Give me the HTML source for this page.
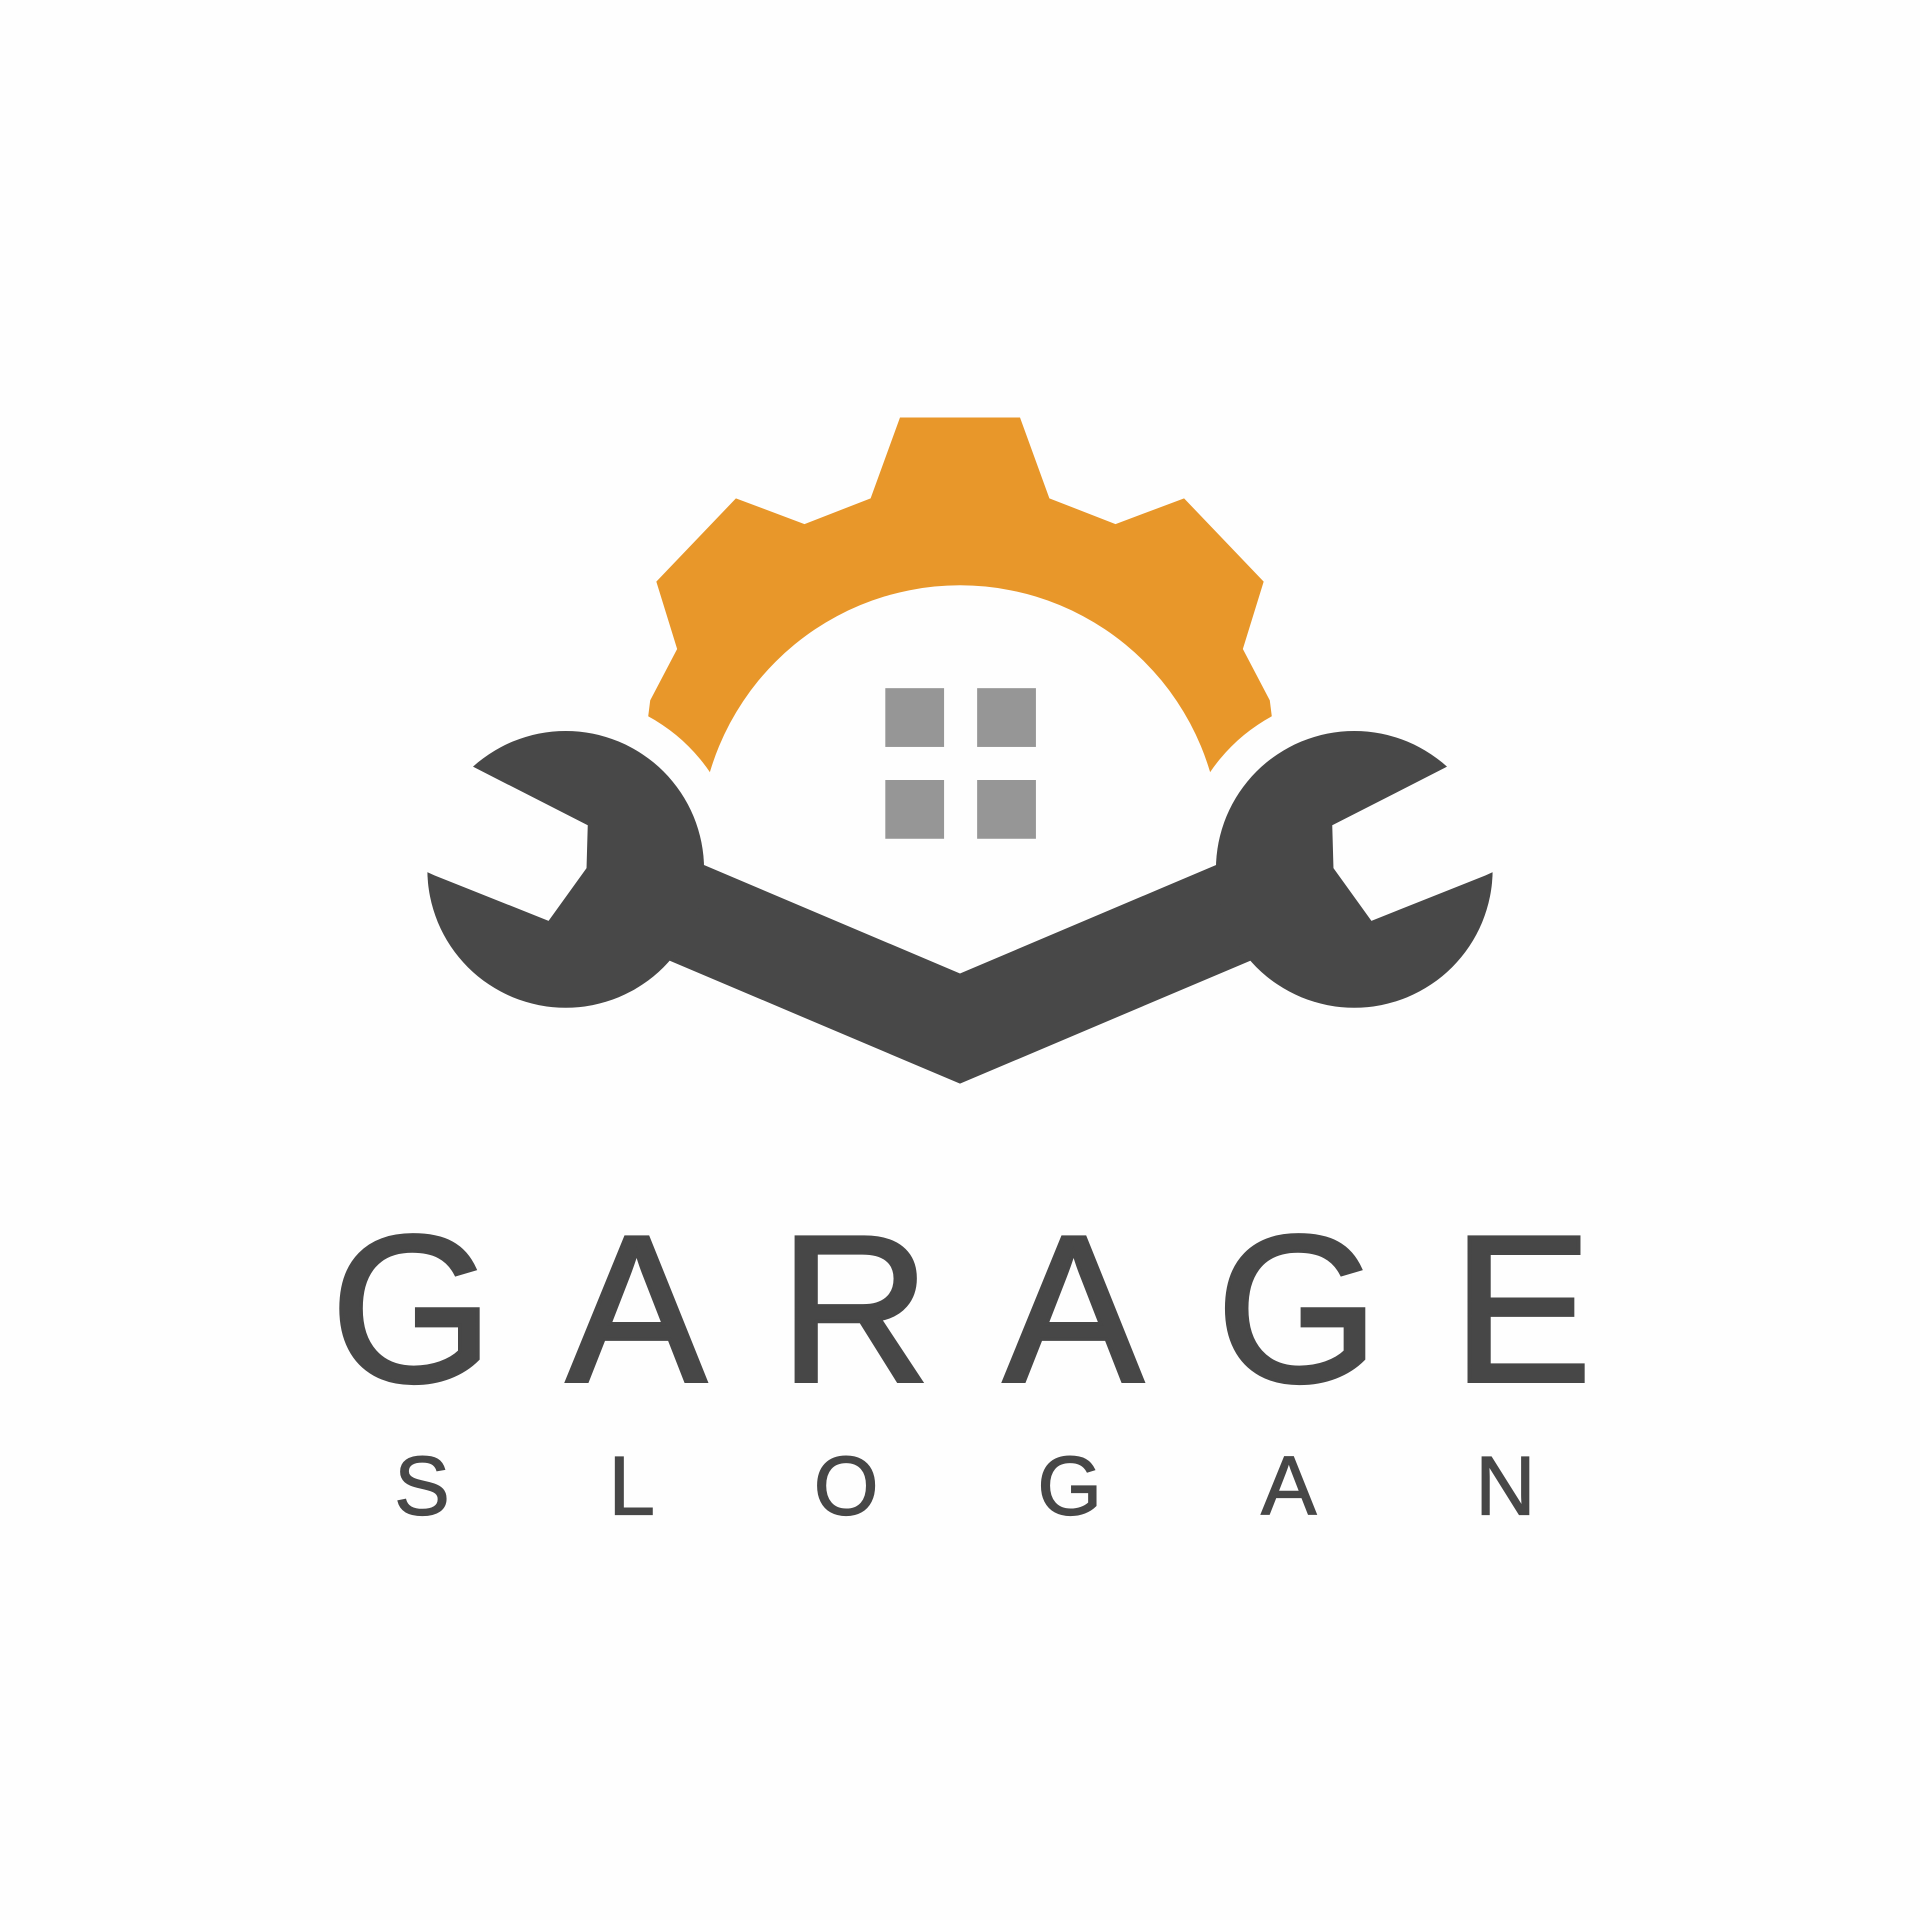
<!DOCTYPE html>
<html><head><meta charset="utf-8"><style>
html,body{margin:0;padding:0;background:#fefefe;}
svg{display:block;}
</style></head><body>
<svg width="1920" height="1920" viewBox="0 0 1568 1568" xmlns="http://www.w3.org/2000/svg">
<rect x="0" y="0" width="1568" height="1568" fill="#fefefe"/>
<defs><clipPath id="gclip"><rect x="0" y="0" width="1568" height="640"/></clipPath></defs>
<g clip-path="url(#gclip)"><path id="gear" fill="#E8972A" fill-rule="evenodd" d=""/></g>
<g fill="#969696">
<rect x="723" y="562" width="48" height="48"/>
<rect x="798" y="562" width="48" height="48"/>
<rect x="723" y="637" width="48" height="48"/>
<rect x="798" y="637" width="48" height="48"/>
</g>
<circle cx="462" cy="710" r="142" fill="#fefefe"/>
<circle cx="1106" cy="710" r="142" fill="#fefefe"/>
<g fill="#484848">
<polygon points="470,662 784,795 1098,662 1098,752 784,885 470,752"/>
<circle cx="462" cy="710" r="113"/>
<circle cx="1106" cy="710" r="113"/>
</g>
<polygon fill="#fefefe" points="388,627 480,674 479,709 448,752 355,715 300,690 320,590"/>
<polygon fill="#fefefe" points="1180,627 1088,674 1089,709 1120,752 1213,715 1268,690 1248,590"/>
<text x="270" y="1128" textLength="1030" lengthAdjust="spacing" font-family="Liberation Sans, sans-serif" font-size="171" fill="#474747" stroke="#474747" stroke-width="3">GARAGE</text>
<text x="322" y="1237" textLength="932" lengthAdjust="spacing" font-family="Liberation Sans, sans-serif" font-size="68" fill="#474747" stroke="#474747" stroke-width="1">SLOGAN</text>
</svg>
<script>
const gearLeftOutline = [[784,341],[735,341],[711,407],[657,428],[601,407],[536,475],[553,530],[531,572],[520,660],[784,660]];
(function(){
  const cx=784, cy=691, rIn=213;
  const left=gearLeftOutline.slice(0,-1);
  const right=left.slice().reverse().map(p=>[1568-p[0],p[1]]);
  const all=left.concat(right);
  let d='M'+all.map(p=>p[0]+','+p[1]).join(' L')+' Z';
  d+=' M'+(cx-rIn)+','+cy+' a'+rIn+','+rIn+' 0 1 0 '+(2*rIn)+',0 a'+rIn+','+rIn+' 0 1 0 '+(-2*rIn)+',0 Z';
  const g=document.getElementById('gear');
  g.setAttribute('d',d);
})();
</script>
</body></html>
